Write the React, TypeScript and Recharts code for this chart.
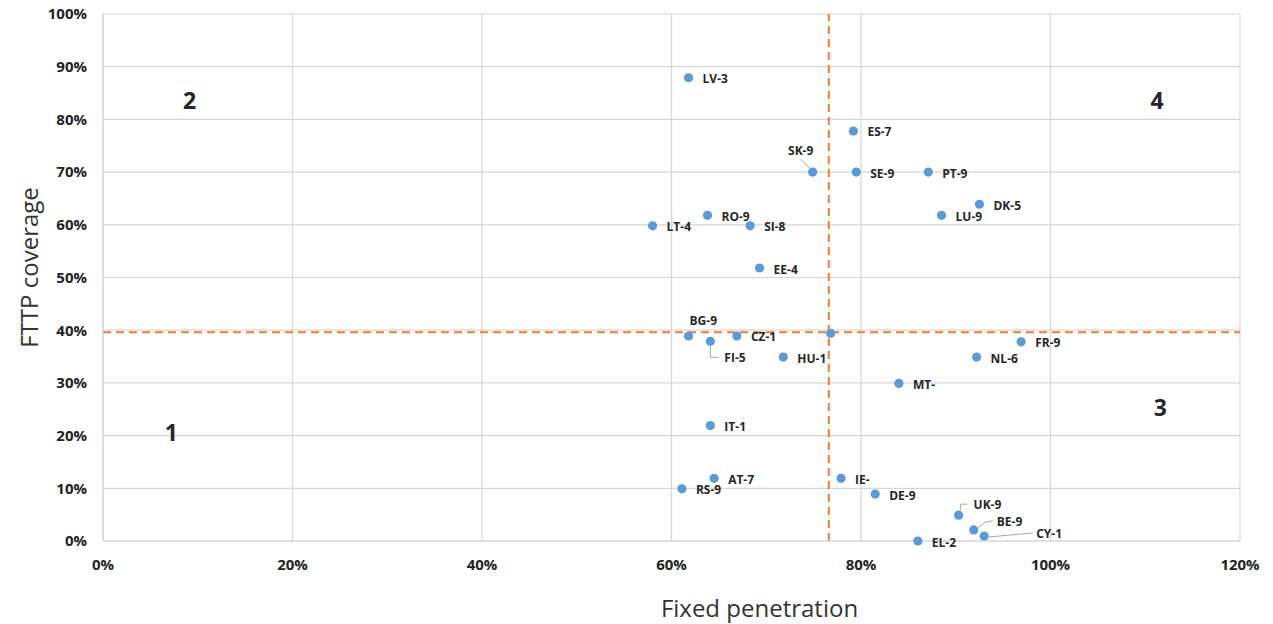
import React from 'react'
import {
  CartesianGrid,
  Label,
  ReferenceDot,
  ReferenceLine,
  Scatter,
  ScatterChart,
  XAxis,
  YAxis,
} from 'recharts'

// country code + tier, blank one is the unlabelled reference point
const countries = [
  'LV-3', 'ES-7', 'SK-9', 'SE-9', 'PT-9', 'DK-5', 'LU-9', 'RO-9', 'LT-4',
  'SI-8', 'EE-4', 'BG-9', 'FI-5', 'CZ-1', '', 'HU-1', 'FR-9', 'NL-6',
  'MT-', 'IT-1', 'AT-7', 'RS-9', 'IE-', 'DE-9', 'UK-9', 'BE-9', 'CY-1',
  'EL-2',
]
const fixedPenetration = [
  0.618, 0.792, 0.749, 0.795, 0.871, 0.925, 0.885, 0.638, 0.58,
  0.683, 0.693, 0.618, 0.641, 0.669, 0.768, 0.718, 0.969, 0.922,
  0.84, 0.641, 0.645, 0.611, 0.779, 0.815, 0.903, 0.919, 0.93,
  0.86,
]
const fttpCoverage = [
  0.879, 0.778, 0.7, 0.7, 0.7, 0.639, 0.618, 0.618, 0.598,
  0.598, 0.518, 0.389, 0.379, 0.389, 0.394, 0.349, 0.378, 0.349,
  0.299, 0.219, 0.119, 0.099, 0.119, 0.089, 0.049, 0.021, 0.0095,
  0,
]
const xTicks = [0, 0.2, 0.4, 0.6, 0.8, 1.0, 1.2]
const yTicks = [0, 0.1, 0.2, 0.3, 0.4, 0.5, 0.6, 0.7, 0.8, 0.9, 1.0]
const avgPenetration = 0.766
const avgCoverage = 0.396
const quadrants = [
  { name: '1', x: 0.072, y: 0.206 },
  { name: '2', x: 0.0915, y: 0.835 },
  { name: '3', x: 1.116, y: 0.253 },
  { name: '4', x: 1.1125, y: 0.836 },
]

const data = countries.map((name, i) => ({
  name,
  x: fixedPenetration[i],
  y: fttpCoverage[i],
}))

type Placement = {
  dx: number
  dy: number
  anchor?: 'start' | 'middle' | 'end'
  leader?: number[][]
}

// labels that Excel moved off the default right-hand spot
const placements: Record<string, Placement> = {
  'SK-9': { dx: -12, dy: -22, anchor: 'middle', leader: [[-12, -13], [-3, -4]] },
  'BG-9': { dx: 1, dy: -15 },
  'FI-5': { dx: 14, dy: 16, leader: [[0, 4], [0, 16], [8, 16]] },
  'UK-9': { dx: 15, dy: -11, leader: [[2, -5], [2, -11], [9, -11]] },
  'BE-9': { dx: 23, dy: -8, leader: [[4, -2], [12, -8], [19, -9]] },
  'CY-1': { dx: 52, dy: -2, leader: [[4, 1], [49, -3]] },
}

const pct = (v: number) => `${Math.round(v * 100)}%`

const renderPoint = (props: any) => {
  const { cx, cy, payload } = props
  const p = placements[payload.name] ?? { dx: 14, dy: 1 }
  return (
    <g>
      {p.leader && (
        <polyline
          points={p.leader.map(([a, b]) => `${cx + a},${cy + b}`).join(' ')}
          fill='none'
          stroke='#a6a6a6'
          strokeWidth={1}
        />
      )}
      <circle cx={cx} cy={cy} r={4.6} fill='#5B9BD5' />
      {payload.name && (
        <text
          x={cx + p.dx}
          y={cy + p.dy}
          dominantBaseline='central'
          textAnchor={p.anchor ?? 'start'}
          fontSize={12}
          fontWeight={700}
          fill='#262626'
        >
          {payload.name}
        </text>
      )}
    </g>
  )
}

export default function App() {
  return (
    <div
      style={{
        position: 'absolute',
        left: 0,
        top: 0,
        width: 1273,
        height: 624,
        background: '#fff',
        fontFamily: "'Open Sans', sans-serif",
      }}
    >
      <ScatterChart
        width={1273}
        height={624}
        margin={{ top: 14, right: 33, bottom: 0, left: 0 }}
      >
        <CartesianGrid stroke='#d6d6d6' strokeWidth={1.2} />
        <XAxis
          type='number'
          dataKey='x'
          domain={[0, 1.2]}
          ticks={xTicks}
          tickFormatter={pct}
          height={83}
          axisLine={{ stroke: '#d6d6d6', strokeWidth: 1.2 }}
          tickLine={false}
          tickMargin={12}
          tick={{ fill: '#222', fontSize: 15, fontWeight: 700 }}
        >
          <Label
            content={({ viewBox }: any) => (
              <text
                x={viewBox.x + viewBox.width / 2 + 88}
                y={617}
                textAnchor='middle'
                fontSize={24}
                fill='#333'
              >
                Fixed penetration
              </text>
            )}
          />
        </XAxis>
        <YAxis
          type='number'
          dataKey='y'
          domain={[0, 1]}
          ticks={yTicks}
          tickFormatter={pct}
          width={103}
          axisLine={{ stroke: '#d6d6d6', strokeWidth: 1.2 }}
          tickLine={false}
          tickMargin={10}
          tick={{ fill: '#222', fontSize: 15, fontWeight: 700 }}
        >
          <Label
            content={({ viewBox }: any) => {
              const cx = 28
              const cy = viewBox.y + viewBox.height / 2 - 10
              return (
                <text
                  x={cx}
                  y={cy}
                  transform={`rotate(-90 ${cx} ${cy})`}
                  textAnchor='middle'
                  dominantBaseline='central'
                  fontSize={24}
                  fill='#333'
                >
                  FTTP coverage
                </text>
              )
            }}
          />
        </YAxis>
        <ReferenceLine
          x={avgPenetration}
          stroke='#ED7D31'
          strokeWidth={2}
          strokeDasharray='8 5'
        />
        <ReferenceLine
          y={avgCoverage}
          stroke='#ED7D31'
          strokeWidth={2}
          strokeDasharray='8 5'
        />
        {quadrants.map(q => (
          <ReferenceDot
            key={q.name}
            x={q.x}
            y={q.y}
            r={0}
            fill='none'
            stroke='none'
            label={{
              value: q.name,
              position: 'center',
              fontSize: 23,
              fontWeight: 700,
              fill: '#262626',
            }}
          />
        ))}
        <Scatter
          data={data}
          shape={renderPoint}
          isAnimationActive={false}
        />
      </ScatterChart>
    </div>
  )
}
